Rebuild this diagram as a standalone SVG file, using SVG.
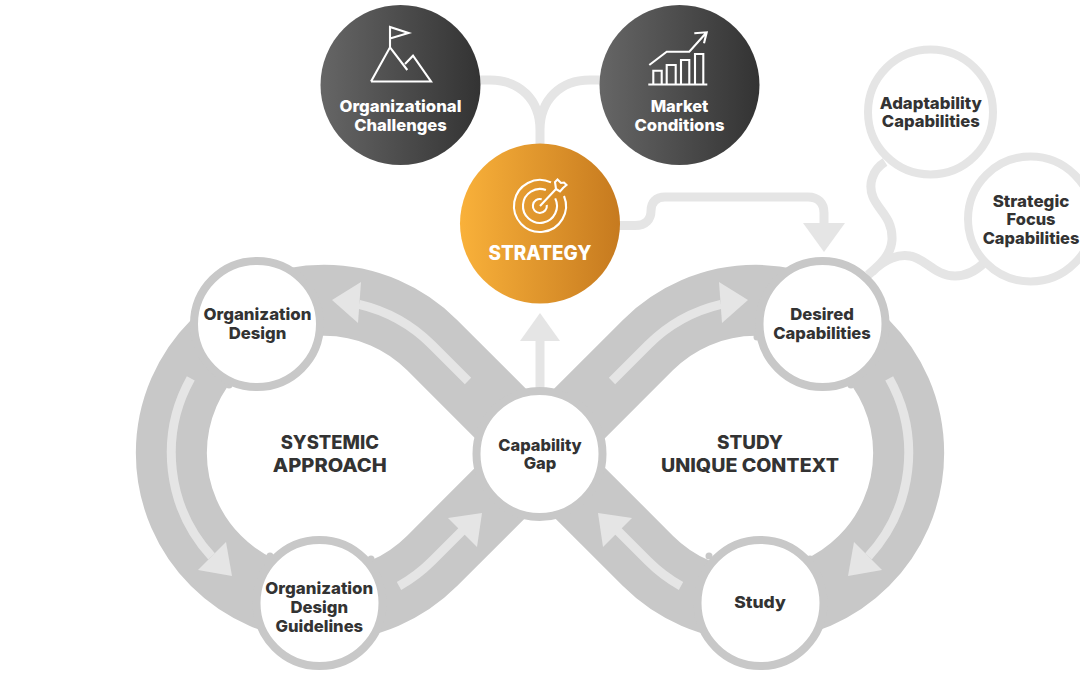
<svg xmlns="http://www.w3.org/2000/svg" width="1080" height="675" viewBox="0 0 1080 675">
<style>
text{font-family:"Inter","Liberation Sans",sans-serif;font-weight:800;text-anchor:middle}
.d{font-size:16.500px;fill:#333}
.w{font-size:16.500px;fill:#fff}
.h{font-size:18.500px;fill:#333}
.n{fill:#fff;stroke:#c8c8c8;stroke-width:8}
.c{fill:#fff;stroke:#e5e5e5;stroke-width:8}
.l{fill:none;stroke:#e5e5e5;stroke-width:9}
.a{fill:#e5e5e5}
.f{fill:#c8c8c8}
.i{fill:none;stroke:#fff;stroke-width:2.100;stroke-linejoin:miter}
</style>
<defs>
<linearGradient id="dk"><stop offset="0" stop-color="#666"/><stop offset="1" stop-color="#333"/></linearGradient>
<linearGradient id="or"><stop offset="0" stop-color="#f9b13a"/><stop offset="1" stop-color="#c67a1f"/></linearGradient>
</defs>
<rect width="1080" height="675" fill="#fff"/>
<g id="connectors">
<path d="M540 453L432 345A152.7 152.7 0 1 0 432 561L648 345A152.7 152.7 0 1 1 648 561Z" fill="none" stroke="#c8c8c8" stroke-width="71" stroke-linejoin="round"/>
<circle class="f" cx="229" cy="385" r="3.500"/><circle class="f" cx="851" cy="385" r="3.500"/><circle class="f" cx="757" cy="337" r="3.500"/><circle class="f" cx="371" cy="559" r="3.500"/><circle class="f" cx="270" cy="556" r="3.500"/><circle class="f" cx="709" cy="556" r="3.500"/><circle class="f" cx="810" cy="559" r="3.500"/>
<path class="l" d="M470 80H490C520 80 540 100 540 130V150M610 80H590C560 80 540 100 540 130"/>
<path class="l" d="M615 225.500H635C646 225.500 651 219 651 211C651 202 656 197 665 197H808C818 197 824 203 824 213V225"/>
<polygon class="a" points="803,223 845,223 824,252"/>
<path class="l" d="M885 162C872 170 868 185 873 197C878 210 893 218 892 240C891 255 880 265 868 275M872 272C885 258 900 254 910 256C925 258 935 276 955 276C968 276 977 270 985 262"/>
<path class="l" d="M468 381L432 345A152.7 152.7 0 0 0 359 304.400"/>
<polygon class="a" points="332,300 361,282 358,323"/>
<path class="l" d="M190.800 378.400A152.700 152.700 0 0 0 211.600 556.400"/>
<polygon class="a" points="232,576 198,570 226,542"/>
<path class="l" d="M399 586A152.700 152.700 0 0 0 432 561L462.500 530.500"/>
<polygon class="a" points="482,513 448,518 477,547"/>
<path class="l" d="M612 381L648 345A152.700 152.700 0 0 1 721 304.400"/>
<polygon class="a" points="748,300 719,282 722,323"/>
<path class="l" d="M889.200 378.400A152.700 152.700 0 0 1 868.400 556.400"/>
<polygon class="a" points="848,576 882,570 854,542"/>
<path class="l" d="M681 586A152.700 152.700 0 0 1 648 561L617.500 530.500"/>
<polygon class="a" points="598,513 632,518 603,547"/>
<path class="l" d="M540 340V392"/>
<polygon class="a" points="540,313 560,341 520,341"/>
</g>
<g id="organizational-challenges">
<circle cx="400.500" cy="85" r="80" fill="url(#dk)"/>
<path class="i" d="M371 81.500H431L413 55.700L405 64M407.300 70L390 47.300L371 81.500M390 47.300V27L408.500 33L390 38.500"/>
<text class="w" x="400.500" y="112" textLength="122" lengthAdjust="spacingAndGlyphs">Organizational</text>
<text class="w" x="400.500" y="130.500" textLength="92.700" lengthAdjust="spacingAndGlyphs">Challenges</text>
</g>
<g id="market-conditions">
<circle cx="679.500" cy="85" r="80" fill="url(#dk)"/>
<path class="i" d="M648.300 84.500H707.300M653.300 84.500V70.700H661.700V84.500M666.700 84.500V65H675.700V84.500M681 84.500V60H689.300V84.500M695 84.500V54H703.300V84.500M649.300 65L666.700 51.700H689.300L706.700 32.300M694.300 33.300L706.700 32.300L704 43.300"/>
<text class="w" x="679.500" y="112" textLength="57.700" lengthAdjust="spacingAndGlyphs">Market</text>
<text class="w" x="679.500" y="130.500" textLength="90" lengthAdjust="spacingAndGlyphs">Conditions</text>
</g>
<g id="strategy">
<circle cx="540" cy="223.500" r="80" fill="url(#or)"/>
<path class="i" d="M551 182.400A26 26 0 1 0 564 196M545.900 190A17 17 0 1 0 555.200 198.400M541.700 199.200A7 7 0 1 0 546.800 205M540 206L556 189M556 189L555 182L557.500 179.500L561 183L564 182.500L566.500 185L563 188L560 191.500Z"/>
<text x="540" y="260" style="font-size:19.500px;fill:#fff" textLength="103" lengthAdjust="spacingAndGlyphs">STRATEGY</text>
</g>
<g id="adaptability-capabilities">
<circle class="c" cx="930.500" cy="112" r="62.500"/>
<text class="d" x="930.800" y="108.500" textLength="102" lengthAdjust="spacingAndGlyphs">Adaptability</text>
<text class="d" x="930.800" y="127" textLength="98" lengthAdjust="spacingAndGlyphs">Capabilities</text>
</g>
<g id="strategic-focus-capabilities">
<circle class="c" cx="1030.500" cy="219" r="62.500"/>
<text class="d" x="1031" y="206.500" textLength="76.600" lengthAdjust="spacingAndGlyphs">Strategic</text>
<text class="d" x="1031" y="225" textLength="49" lengthAdjust="spacingAndGlyphs">Focus</text>
<text class="d" x="1031" y="243.500" textLength="96.700" lengthAdjust="spacingAndGlyphs">Capabilities</text>
</g>
<g id="organization-design">
<circle class="n" cx="257" cy="324" r="63"/>
<text class="d" x="257.500" y="320" textLength="108" lengthAdjust="spacingAndGlyphs">Organization</text>
<text class="d" x="257.500" y="338.500" textLength="57.700" lengthAdjust="spacingAndGlyphs">Design</text>
</g>
<g id="desired-capabilities">
<circle class="n" cx="822.500" cy="324" r="63"/>
<text class="d" x="822" y="320" textLength="63.700" lengthAdjust="spacingAndGlyphs">Desired</text>
<text class="d" x="822" y="338.500" textLength="97.700" lengthAdjust="spacingAndGlyphs">Capabilities</text>
</g>
<g id="capability-gap">
<circle class="n" cx="539.500" cy="454" r="63"/>
<text class="d" x="540" y="450.500" textLength="83.500" lengthAdjust="spacingAndGlyphs">Capability</text>
<text class="d" x="540" y="468.500" textLength="32.700" lengthAdjust="spacingAndGlyphs">Gap</text>
</g>
<g id="organization-design-guidelines">
<circle class="n" cx="319.500" cy="603" r="63"/>
<text class="d" x="319.300" y="594.300" textLength="108" lengthAdjust="spacingAndGlyphs">Organization</text>
<text class="d" x="319.300" y="613.300" textLength="57.700" lengthAdjust="spacingAndGlyphs">Design</text>
<text class="d" x="319.300" y="632.300" textLength="87.700" lengthAdjust="spacingAndGlyphs">Guidelines</text>
</g>
<g id="study">
<circle class="n" cx="760.500" cy="603" r="63"/>
<text class="d" x="760" y="608.300" textLength="51.700" lengthAdjust="spacingAndGlyphs">Study</text>
</g>
<g id="labels">
<text class="h" x="329.800" y="449" textLength="98.300" lengthAdjust="spacingAndGlyphs">SYSTEMIC</text>
<text class="h" x="329.800" y="471.700" textLength="114" lengthAdjust="spacingAndGlyphs">APPROACH</text>
<text class="h" x="750" y="449" textLength="66" lengthAdjust="spacingAndGlyphs">STUDY</text>
<text class="h" x="750" y="471.700" textLength="178" lengthAdjust="spacingAndGlyphs">UNIQUE CONTEXT</text>
</g>
</svg>
